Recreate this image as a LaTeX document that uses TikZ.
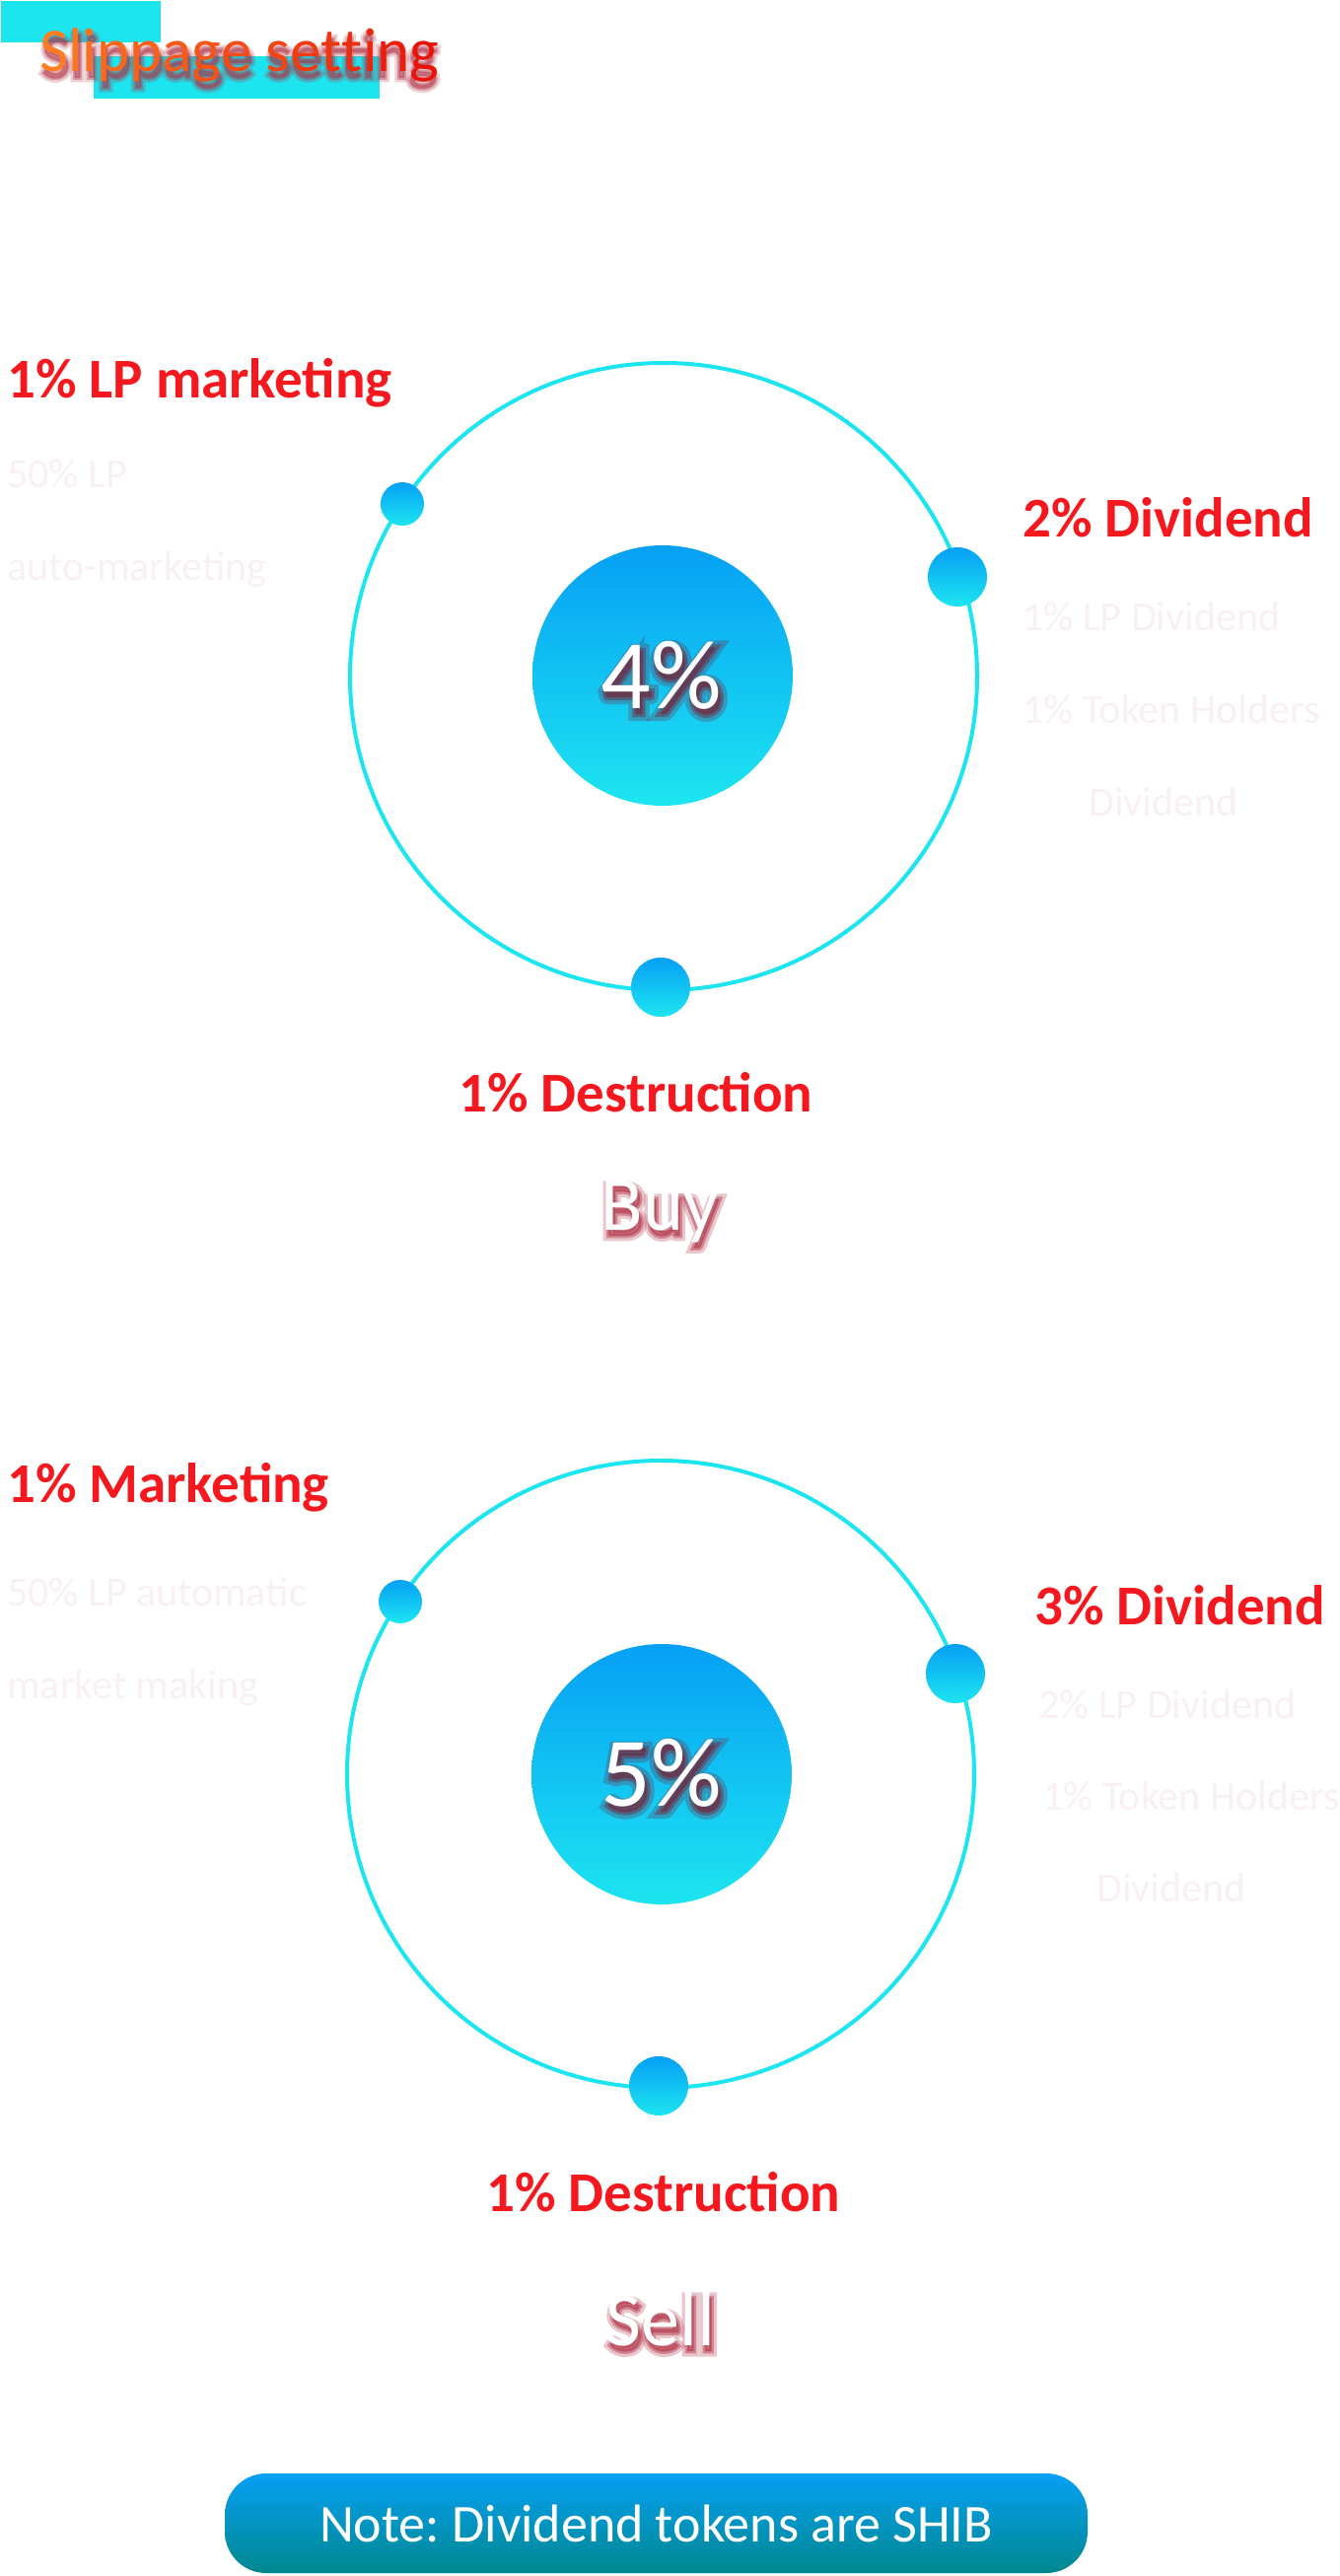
\documentclass[tikz,border=0pt]{standalone}
\usepackage{fontspec}
\setmainfont{Carlito}
\newfontfamily\glowfontA[FakeBold=14]{Carlito}
\newfontfamily\glowfontB[FakeBold=6]{Carlito}
\definecolor{cyanring}{RGB}{29,229,240}
\definecolor{gtop}{RGB}{6,160,245}
\definecolor{gbot}{RGB}{29,229,240}
\definecolor{lblred}{RGB}{245,25,31}
\definecolor{faint}{RGB}{249,241,241}
\definecolor{notetop}{RGB}{6,160,245}
\definecolor{notebot}{RGB}{0,136,142}
\definecolor{tOr}{RGB}{255,125,30}
\definecolor{tRd}{RGB}{232,20,10}
\definecolor{glowred}{RGB}{175,45,65}
\definecolor{shadowred}{RGB}{120,30,50}
% #1 x, #2 y, #3 anchor, #4 size, #5 text, #6 colour, #7 opacity
\newcommand{\glowtext}[7]{%
  \node[inner sep=0, anchor=#3, text=#6, opacity=#7*0.45, font=\glowfontA\fontsize{#4}{#4}\selectfont] at (#1+2,#2+6) {#5};
  \node[inner sep=0, anchor=#3, text=#6, opacity=#7*0.7, font=\glowfontB\fontsize{#4}{#4}\selectfont] at (#1+2,#2+6) {#5};}
\newcommand{\titletext}{\textcolor{tOr}{S}\textcolor{tRd!7!tOr}{l}\textcolor{tRd!13!tOr}{i}\textcolor{tRd!20!tOr}{p}\textcolor{tRd!27!tOr}{p}\textcolor{tRd!33!tOr}{a}\textcolor{tRd!40!tOr}{g}\textcolor{tRd!47!tOr}{e} \textcolor{tRd!55!tOr}{s}\textcolor{tRd!62!tOr}{e}\textcolor{tRd!69!tOr}{t}\textcolor{tRd!76!tOr}{t}\textcolor{tRd!83!tOr}{i}\textcolor{tRd!91!tOr}{n}\textcolor{tRd}{g}}
\frenchspacing
\begin{document}
\begin{tikzpicture}[x=0.5pt,y=-0.5pt,
  ring/.style={circle, draw=cyanring, line width=2pt, minimum size=318pt, inner sep=0},
  core/.style={circle, top color=gtop, bottom color=gbot, minimum size=132pt, inner sep=0},
  dotS/.style={circle, top color=gtop, bottom color=gbot, minimum size=22pt, inner sep=0},
  dotL/.style={circle, top color=gtop, bottom color=gbot, minimum size=30pt, inner sep=0},
  lbl/.style={text=lblred, font=\fontsize{28.5}{30}\selectfont\bfseries, inner sep=0},
  sub/.style={text=faint, font=\fontsize{21}{24}\selectfont, inner sep=0},
  pct/.style={text=white, font=\fontsize{50}{55}\selectfont, inner sep=0, anchor=base},
  side/.style={text=white, font=\fontsize{39}{44}\selectfont, inner sep=0, anchor=base},
  ttl/.style={font=\fontsize{31.5}{34}\selectfont, inner sep=0, anchor=base west},
  notebox/.style={rounded corners=21pt, top color=notetop, bottom color=notebot, text=white,
    font=\fontsize{27}{30}\selectfont, minimum width=437.5pt, minimum height=50.5pt, inner sep=0},
]
\useasboundingbox (0,0) rectangle (1359,2612);
\fill[white] (0,0) rectangle (1359,2612);

% title
\fill[cyanring] (1,1) rectangle (163,43);
\fill[cyanring] (95,57) rectangle (385,100);
\glowtext{40}{73}{base west}{31.5}{Slippage setting}{glowred}{0.5}
\node[ttl] (title) at (40,73) {\titletext};

% ---------- Buy ----------
\node[ring] (ringA) at (673,686) {};
\node[core] (coreA) at (672,685) {};
\glowtext{671}{718}{base}{50}{4\%}{shadowred}{0.6}
\node[pct] (pctA) at (671,718) {4\%};
\node[dotS] (dotA1) at (408,511) {};
\node[dotL] (dotA2) at (971,585) {};
\node[dotL] (dotA3) at (670,1001) {};

\node[lbl, anchor=base west] (mkA) at (7,403) {1\% LP marketing};
\node[sub, anchor=base west] (mkA1) at (7,494) {50\% LP};
\node[sub, anchor=base west] (mkA2) at (7,588) {auto-marketing};
\node[lbl, anchor=base west] (dvA) at (1037,544) {2\% Dividend};
\node[sub, anchor=base west] (dvA1) at (1037,639) {1\% LP Dividend};
\node[sub, anchor=base west] (dvA2) at (1037,733) {1\% Token Holders};
\node[sub, anchor=base] (dvA3) at (1180,827) {Dividend};
\node[lbl, anchor=base] (dsA) at (645,1127) {1\% Destruction};
\glowtext{669}{1247}{base}{39}{Buy}{glowred}{0.6}
\node[side] (buy) at (669,1247) {Buy};

% ---------- Sell ----------
\node[ring] (ringB) at (670,1799) {};
\node[core] (coreB) at (671,1799) {};
\glowtext{671}{1831}{base}{50}{5\%}{shadowred}{0.6}
\node[pct] (pctB) at (671,1831) {5\%};
\node[dotS] (dotB1) at (406,1624) {};
\node[dotL] (dotB2) at (969,1697) {};
\node[dotL] (dotB3) at (668,2115) {};

\node[lbl, anchor=base west] (mkB) at (7,1523) {1\% Marketing};
\node[sub, anchor=base west] (mkB1) at (7,1628) {50\% LP automatic};
\node[sub, anchor=base west] (mkB2) at (7,1722) {market making};
\node[lbl, anchor=base west] (dvB) at (1049,1647) {3\% Dividend};
\node[sub, anchor=base west] (dvB1) at (1053,1742) {2\% LP Dividend};
\node[sub, anchor=base west] (dvB2) at (1057,1835) {1\% Token Holders};
\node[sub, anchor=base] (dvB3) at (1188,1928) {Dividend};
\node[lbl, anchor=base] (dsB) at (673,2242) {1\% Destruction};
\glowtext{670}{2378}{base}{39}{Sell}{glowred}{0.6}
\node[side] (sell) at (670,2378) {Sell};

% note
\node[notebox] (note) at (665.5,2558.5) {Note: Dividend tokens are SHIB};
\end{tikzpicture}
\end{document}
